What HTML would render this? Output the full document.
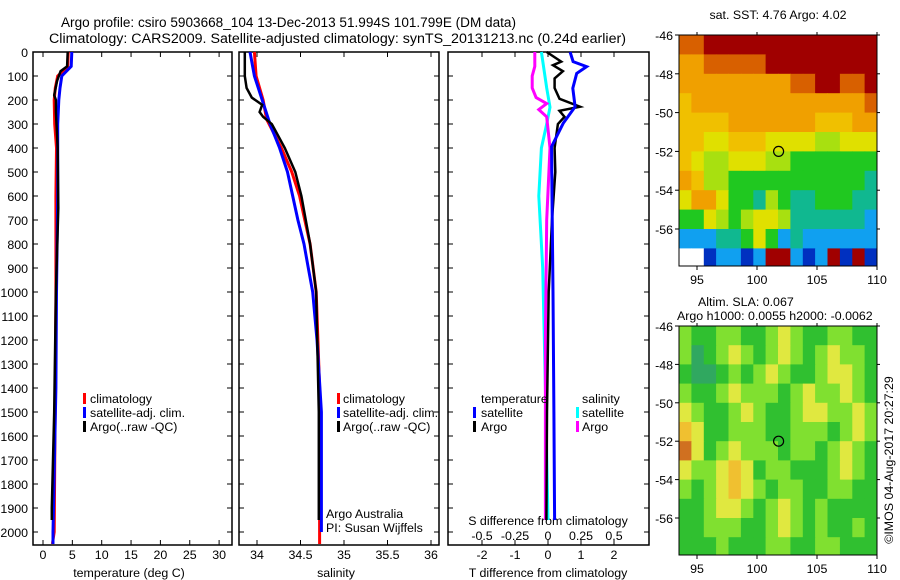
<!DOCTYPE html>
<html><head><meta charset="utf-8"><style>
body{margin:0;background:#fff;}
svg{display:block;font-family:"Liberation Sans",sans-serif;font-size:12.4px;}
</style></head><body>
<svg id="c" width="900" height="580"></svg>
<script>
// ---- data ----
const tDepth = [0,60,100,150,200,300,400,600,1000,1400,2000,2050];
const tClim  = [4.3,4.2,2.5,2.1,1.9,2.0,2.3,2.2,2.2,2.1,1.9,1.6];
const tSat   = [4.9,4.8,3.2,2.9,2.7,2.5,2.5,2.5,2.3,2.2,1.7,1.7];
const argoDepth = [0,60,80,120,180,200,250,400,650,1000,1500,1900,1950];
const tArgo = [4.2,4.1,3.0,2.4,1.9,2.2,2.2,2.5,2.6,2.2,1.9,1.5,1.5];
const sDepth = [0,100,200,280,400,500,600,700,800,1000,1400,2050];
const sClim  = [33.97,33.99,34.07,34.11,34.28,34.40,34.49,34.55,34.61,34.68,34.72,34.72];
const sSatDepth = [0,100,200,300,400,500,600,700,800,900,1000,1200,1500,2000];
const sSat = [33.92,33.97,34.06,34.15,34.26,34.35,34.41,34.47,34.54,34.59,34.64,34.69,34.74,34.74];
const sArgoDepth = [0,100,150,190,220,250,270,300,400,500,600,800,1000,1500,1950];
const sArgo = [33.86,33.86,33.88,33.94,34.06,34.03,34.07,34.17,34.32,34.44,34.51,34.61,34.68,34.71,34.71];
const dDepthT = [0,40,61,89,151,228,297,394,600,1000,1500,1950];
const dTSat = [0.67,0.76,1.17,0.87,0.75,0.82,0.46,0.11,0.12,0.15,0.18,0.2];
const dArgoDepth = [0,40,55,80,110,150,195,228,245,270,300,400,500,700,1000,1500,1950];
const dTArgo = [-0.04,0.4,0.15,0.45,0.2,0.2,0.35,0.97,0.35,0.5,0.3,0.2,0.22,0.12,0.02,-0.03,-0.05];
const dSDepth = [0,150,230,300,400,600,900,1400,1950];
const dSSat = [-0.05,-0.01,0.015,-0.01,-0.05,-0.07,-0.04,-0.02,0];
const dSArgoDepth = [0,60,100,150,190,215,240,270,400,700,1200,1950];
const dSArgo = [-0.10,-0.10,-0.12,-0.12,-0.09,-0.01,-0.07,-0.01,0.015,-0.01,-0.02,-0.02];
const depthTicks = [0,100,200,300,400,500,600,700,800,900,1000,1100,1200,1300,1400,1500,1600,1700,1800,1900,2000];
const tTicks = [0,5,10,15,20,25,30];
const sTicks = [34,34.5,35,35.5,36];
const dTTicks = [-2,-1,0,1,2];
const dSTicks = [-0.5,-0.25,0,0.25,0.5];
const sstGrid = [
[8,8,9,9,9,9,9,9,9,9,9,9,9,9,9,9],
[7,7,8,8,8,8,8,9,9,9,9,9,9,9,9,9],
[7,7,7,7,7,7,7,7,7,8,8,9,9,8,8,9],
[6,7,7,7,7,7,7,7,7,7,7,7,7,7,7,8],
[6,6,6,6,7,7,7,7,7,7,7,6,6,6,7,7],
[6,6,5,5,6,6,6,5,5,5,5,4,4,5,5,5],
[6,5,4,4,5,5,5,4,4,3,3,3,3,3,3,3],
[7,6,4,4,3,3,3,3,3,3,3,3,3,3,3,2],
[5,7,7,5,3,3,2,4,3,2,2,3,3,3,2,2],
[3,3,5,4,3,4,5,5,4,2,2,2,2,2,2,1],
[1,1,1,2,2,3,5,3,1,2,1,1,1,1,1,1],
[-1,-1,0,1,1,0,1,9,9,1,0,1,9,0,9,0]];
const slaGrid = [
[2,1,1,2,2,1,1,2,3,2,1,1,2,2,1,1],
[2,0,1,2,3,2,1,2,3,2,1,2,3,2,2,1],
[1,0,0,1,2,1,2,3,2,1,1,2,3,3,2,1],
[2,1,1,2,3,2,2,2,1,2,3,2,2,3,2,1],
[3,2,1,1,2,3,2,1,1,2,3,3,2,2,3,2],
[4,3,1,1,2,2,2,1,1,2,2,2,1,2,3,2],
[5,3,1,2,3,2,2,2,1,2,2,1,2,3,2,1],
[3,2,2,3,4,3,1,2,2,1,1,1,2,3,2,1],
[2,1,2,3,4,3,2,1,2,2,1,1,2,2,1,1],
[1,1,2,3,3,2,1,2,3,2,1,2,1,1,1,1],
[1,1,2,2,2,1,1,2,3,2,1,2,1,1,2,1],
[1,1,1,2,1,1,1,2,2,1,1,2,2,1,1,1]];
const latTicks = [-46,-48,-50,-52,-54,-56];
const lonTicks = [95,100,105,110];
const argoLon = 101.8, argoLat = -52;

// ---- helpers ----
const NS="http://www.w3.org/2000/svg";
const svg=document.getElementById('c');
function el(tag,attrs,parent){const e=document.createElementNS(NS,tag);for(const k in attrs)e.setAttribute(k,attrs[k]);(parent||svg).appendChild(e);return e;}
function txt(x,y,s,anchor,name,extra){const t=el('text',Object.assign({x:x,y:y,'text-anchor':anchor||'start'},extra||{}));t.textContent=s;


return t;}
const Y=d=>52+d*0.24;
const PT=0, PB=545;

function panel(x0,x1,name){
  const r=el('rect',{x:x0,y:PT+52,width:x1-x0,height:PB-52,fill:'none',stroke:'#000','stroke-width':1.5});
  
  
  depthTicks.forEach(d=>{el('line',{x1:x0,x2:x0+5,y1:Y(d),y2:Y(d),stroke:'#000'});el('line',{x1:x1,x2:x1-5,y1:Y(d),y2:Y(d),stroke:'#000'});});
}
function line(xs,ds,sx,color,name,w){
  const pts=xs.map((v,i)=>sx(v).toFixed(1)+','+Y(ds[i]).toFixed(1)).join(' ');
  const p=el('polyline',{points:pts,fill:'none',stroke:color,'stroke-width':w||3,'stroke-linejoin':'miter'});
  
  
}
function xticks(ticks,sx,y,name,fmt){ticks.forEach(t=>{const x=sx(t);el('line',{x1:x,x2:x,y1:PB,y2:PB-5,stroke:'#000'});el('line',{x1:x,x2:x,y1:52,y2:57,stroke:'#000'});txt(x,y,fmt?fmt(t):String(t),'middle',name);});}
function legBar(x,y,color,name){const r=el('rect',{x:x,y:y-10,width:3,height:11,fill:color});

}

// titles
txt(61,27,'Argo profile: csiro 5903668_104 13-Dec-2013 51.994S 101.799E (DM data)','start','title-line-1',{textLength:455,lengthAdjust:'spacingAndGlyphs','font-size':'13.5px'});
txt(49,43,'Climatology: CARS2009. Satellite-adjusted climatology: synTS_20131213.nc (0.24d earlier)','start','title-line-2',{textLength:577,lengthAdjust:'spacingAndGlyphs','font-size':'13.5px'});

// depth labels
depthTicks.forEach(d=>txt(28,Y(d)+5,String(d),'end','depth-tick-label'));

// panel 1 temperature
const sxT=v=>43+v*5.87;
panel(33,232,'temperature-panel');
xticks(tTicks,sxT,559,'temperature-tick-label');
txt(129,577,'temperature (deg C)','middle','temperature-axis-title');
line(tClim,tDepth,sxT,'#f00','temperature-climatology-line');
line(tSat,tDepth,sxT,'#00f','temperature-satellite-line');
line(tArgo,argoDepth,sxT,'#000','temperature-argo-line',2.5);
legBar(83,403,'#f00','legend-climatology-swatch');txt(90,403,'climatology','start','legend-climatology');
legBar(83,417,'#00f','legend-satellite-swatch');txt(90,417,'satellite-adj. clim.','start','legend-satellite');
legBar(83,431,'#000','legend-argo-swatch');txt(90,431,'Argo(..raw -QC)','start','legend-argo');

// panel 2 salinity
const sxS=v=>257+(v-34)*87;
panel(239,439,'salinity-panel');
xticks(sTicks,sxS,559,'salinity-tick-label');
txt(336,577,'salinity','middle','salinity-axis-title');
line(sClim,sDepth,sxS,'#f00','salinity-climatology-line');
line(sSat,sSatDepth,sxS,'#00f','salinity-satellite-line');
line(sArgo,sArgoDepth,sxS,'#000','salinity-argo-line',2.5);
legBar(337,403,'#f00','legend2-climatology-swatch');txt(343,403,'climatology','start','legend2-climatology');
legBar(337,417,'#00f','legend2-satellite-swatch');txt(343,417,'satellite-adj. clim.','start','legend2-satellite');
legBar(337,431,'#000','legend2-argo-swatch');txt(343,431,'Argo(..raw -QC)','start','legend2-argo');
txt(326,518,'Argo Australia','start','argo-australia-label');
txt(326,532,'PI: Susan Wijffels','start','pi-label');

// panel 3 differences
const sxDT=v=>548+v*33;
const sxDS=v=>548+v*132;
panel(448,649,'difference-panel');
xticks(dTTicks,sxDT,559,'t-diff-tick-label');
dSTicks.forEach(t=>txt(sxDS(t),540,String(t),'middle','s-diff-tick-label'));
txt(548,525,'S difference from climatology','middle','s-diff-axis-title');
txt(548,577,'T difference from climatology','middle','t-diff-axis-title');
line(dSSat,dSDepth,sxDS,'#0ff','s-diff-satellite-line');
line(dSArgo,dSArgoDepth,sxDS,'#f0f','s-diff-argo-line');
line(dTArgo,dArgoDepth,sxDT,'#000','t-diff-argo-line',2.5);
line(dTSat,dDepthT,sxDT,'#00f','t-diff-satellite-line');
txt(481,403,'temperature','start','legend3-temperature-header');
txt(582,403,'salinity','start','legend3-salinity-header');
legBar(473,417,'#00f','legend3-t-satellite-swatch');txt(481,417,'satellite','start','legend3-t-satellite');
legBar(473,431,'#000','legend3-t-argo-swatch');txt(481,431,'Argo','start','legend3-t-argo');
legBar(576,417,'#0ff','legend3-s-satellite-swatch');txt(582,417,'satellite','start','legend3-s-satellite');
legBar(576,431,'#f0f','legend3-s-argo-swatch');txt(582,431,'Argo','start','legend3-s-argo');

// maps
const sstColors={'-1':'#fff',0:'#0030c0',1:'#10a0f0',2:'#10b890',3:'#20c820',4:'#a8e010',5:'#e0e000',6:'#f0c000',7:'#f0a000',8:'#d86000',9:'#a00000'};
const slaColors={0:'#30a860',1:'#30c030',2:'#80e030',3:'#e0e840',4:'#f0c030',5:'#d07020'};
function map(x0,x1,yTop,yBot,latScale,grid,colors,name){
  const lon0=93.5, lonScale=(x1-x0)/16.5;
  const sx=l=>x0+(l-lon0)*lonScale, sy=la=>yTop+(-46-la)*latScale;
  const g=el('g',{});
  
  
  const cw=(x1-x0)/grid[0].length;
  grid.forEach((row,r)=>row.forEach((v,c)=>{
    const y=sy(-46-r), h=Math.min(latScale,yBot-y);
    if(h>0){const cell=el('rect',{x:(x0+c*cw).toFixed(1),y:y.toFixed(1),width:(cw+0.5).toFixed(1),height:(h+0.5).toFixed(1),fill:colors[v]},g);
    
    }
  }));
  el('rect',{x:x0,y:yTop,width:x1-x0,height:yBot-yTop,fill:'none',stroke:'#000'});
  latTicks.forEach(la=>{const y=sy(la);el('line',{x1:x0-4,x2:x0,y1:y,y2:y,stroke:'#000'});el('line',{x1:x1,x2:x1+3,y1:y,y2:y,stroke:'#000'});txt(x0-6,y+5,String(la),'end',name+'-lat-label');});
  lonTicks.forEach(lo=>{const x=sx(lo);el('line',{x1:x,x2:x,y1:yBot,y2:yBot+4,stroke:'#000'});el('line',{x1:x,x2:x,y1:yTop-3,y2:yTop,stroke:'#000'});txt(x,yBot+18,String(lo),'middle',name+'-lon-label');});
  const c=el('circle',{cx:sx(argoLon),cy:sy(argoLat),r:5,fill:'none',stroke:'#000','stroke-width':1.2});
  
  
}
map(679,877,35,266,19.4,sstGrid,sstColors,'sst-map');
txt(778,19,'sat. SST: 4.76 Argo: 4.02','middle','sst-map-title');
txt(698,306,'Altim. SLA: 0.067','start','sla-label');
txt(677,320,'Argo h1000: 0.0055 h2000: -0.0062','start','argo-height-label');
map(679,877,326,555,19.2,slaGrid,slaColors,'sla-map');
txt(0,0,'©IMOS 04-Aug-2017 20:27:29','middle','imos-stamp',{transform:'translate(893,460) rotate(-90)'});
</script>
</body></html>
